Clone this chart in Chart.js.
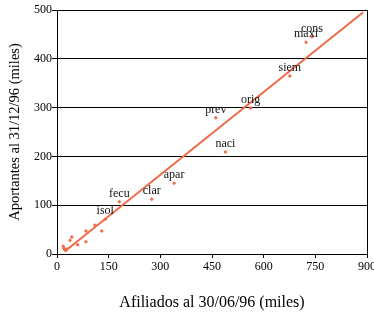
<!DOCTYPE html>
<html>
<head>
<meta charset="utf-8">
<script src="https://cdn.jsdelivr.net/npm/chart.js@4.4.1/dist/chart.umd.min.js"></script>
<style>
  html, body { margin: 0; padding: 0; background: #fff; }
  #chart { display: block; }
</style>
</head>
<body>
<canvas id="chart" width="374" height="314"></canvas>
<script>
// datos (miles)
const afiliados  = [18, 20, 22, 25, 28, 38, 43, 60, 84, 84, 110, 130, 140, 181, 275, 340, 489, 461, 562, 676, 723, 740];
const aportantes = [16, 12,  9,  7, 10, 28, 35, 19, 47, 25,  59,  47,  71, 107, 112, 145, 209, 279, 299, 365, 434, 445];
const etiquetas  = ['', '', '', '', '', '', '', '', '', '', '', '', 'isol', 'fecu', 'clar', 'apar', 'naci', 'prev', 'orig', 'siem', 'maxi', 'cons'];

// recta de ajuste
const rectaX = [23, 889];
const rectaY = [5.5, 495.5];

const xTicks = [0, 150, 300, 450, 600, 750, 900];
const yTicks = [0, 100, 200, 300, 400, 500];

const NARANJA = '#F06A48';
const SERIF = '"Liberation Serif", "Times New Roman", serif';

Chart.defaults.font.family = SERIF;
Chart.defaults.color = '#000';

const puntos = afiliados.map((x, i) => ({ x: x, y: aportantes[i] }));
const recta = rectaX.map((x, i) => ({ x: x, y: rectaY[i] }));

// etiquetas de puntos, títulos de ejes y borde derecho
const extras = {
  id: 'extras',
  afterDatasetsDraw(chart) {
    const ctx = chart.ctx;
    const area = chart.chartArea;
    const meta = chart.getDatasetMeta(1);
    ctx.save();

    ctx.strokeStyle = '#000';
    ctx.lineWidth = 1;
    ctx.beginPath();
    ctx.moveTo(Math.round(area.right) + 0.5, area.top);
    ctx.lineTo(Math.round(area.right) + 0.5, area.bottom);
    ctx.stroke();

    ctx.font = '12px ' + SERIF;
    ctx.fillStyle = '#111';
    ctx.textAlign = 'center';
    ctx.textBaseline = 'alphabetic';
    meta.data.forEach((pt, i) => {
      if (etiquetas[i]) ctx.fillText(etiquetas[i], pt.x, pt.y - 5);
    });

    ctx.fillStyle = '#000';
    ctx.textBaseline = 'middle';
    ctx.font = '16px ' + SERIF;
    ctx.fillText('Afiliados al 30/06/96 (miles)', 212, 303);

    ctx.font = '14.5px ' + SERIF;
    ctx.translate(15, 132);
    ctx.rotate(-Math.PI / 2);
    ctx.fillText('Aportantes al 31/12/96 (miles)', 0, 0);
    ctx.restore();
  }
};

new Chart(document.getElementById('chart'), {
  type: 'scatter',
  data: {
    datasets: [
      {
        type: 'line',
        data: recta,
        borderColor: NARANJA,
        borderWidth: 2,
        pointRadius: 0,
        fill: false
      },
      {
        data: puntos,
        pointStyle: 'rectRot',
        pointRadius: 2,
        backgroundColor: NARANJA,
        borderColor: NARANJA,
        borderWidth: 0
      }
    ]
  },
  options: {
    responsive: false,
    animation: false,
    layout: { padding: { top: 10, right: 7, left: 0, bottom: 0 } },
    plugins: {
      legend: { display: false },
      tooltip: { enabled: false }
    },
    scales: {
      x: {
        type: 'linear',
        min: 0,
        max: 900,
        afterBuildTicks(scale) { scale.ticks = xTicks.map(v => ({ value: v })); },
        afterFit(scale) {
          scale.height = 60;
          scale.paddingLeft = 0;
          scale.paddingRight = 0;
        },
        grid: { drawOnChartArea: false, drawTicks: true, tickLength: 4, color: '#000' },
        border: { color: '#000', width: 1 },
        ticks: { font: { size: 12 }, padding: 2, maxRotation: 0, autoSkip: false }
      },
      y: {
        type: 'linear',
        min: 0,
        max: 500,
        afterBuildTicks(scale) { scale.ticks = yTicks.map(v => ({ value: v })); },
        afterFit(scale) {
          scale.width = 57;
          scale.paddingTop = 0;
          scale.paddingBottom = 0;
        },
        grid: { color: '#000', lineWidth: 1, tickLength: 5 },
        border: { color: '#000', width: 1 },
        ticks: { font: { size: 12 }, padding: 0 }
      }
    }
  },
  plugins: [extras]
});
</script>
</body>
</html>
